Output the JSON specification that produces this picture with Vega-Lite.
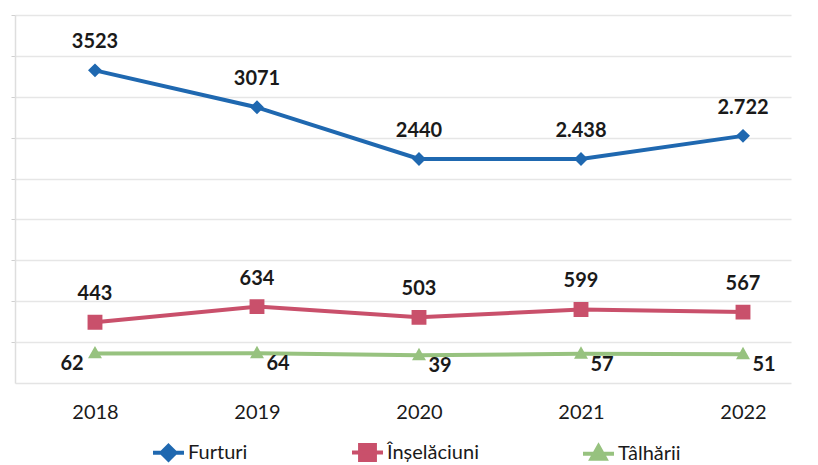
{
  "$schema": "https://vega.github.io/schema/vega-lite/v6.json",
  "width": 776,
  "height": 368,
  "autosize": {"type": "none"},
  "padding": {"left": 15, "top": 15, "right": 27, "bottom": 82},
  "background": "white",
  "config": {"view": {"stroke": null}, "font": "Lato"},
  "data": {
    "values": [
      {"year": "2018", "series": "Furturi", "value": 3523, "label": "3523"},
      {"year": "2019", "series": "Furturi", "value": 3071, "label": "3071"},
      {"year": "2020", "series": "Furturi", "value": 2440, "label": "2440"},
      {"year": "2021", "series": "Furturi", "value": 2438, "label": "2.438"},
      {"year": "2022", "series": "Furturi", "value": 2722, "label": "2.722"},
      {"year": "2018", "series": "Înșelăciuni", "value": 443, "label": "443"},
      {"year": "2019", "series": "Înșelăciuni", "value": 634, "label": "634"},
      {"year": "2020", "series": "Înșelăciuni", "value": 503, "label": "503"},
      {"year": "2021", "series": "Înșelăciuni", "value": 599, "label": "599"},
      {"year": "2022", "series": "Înșelăciuni", "value": 567, "label": "567"},
      {"year": "2018", "series": "Tâlhării", "value": 62, "label": "62"},
      {"year": "2019", "series": "Tâlhării", "value": 64, "label": "64"},
      {"year": "2020", "series": "Tâlhării", "value": 39, "label": "39"},
      {"year": "2021", "series": "Tâlhării", "value": 57, "label": "57"},
      {"year": "2022", "series": "Tâlhării", "value": 51, "label": "51"}
    ]
  },
  "encoding": {
    "x": {
      "field": "year", "type": "ordinal",
      "scale": {"type": "point", "padding": 0.395, "align": 0.625},
      "axis": {"title": null, "labelAngle": 0, "ticks": false, "domain": true, "domainColor": "#e4e4e4", "domainWidth": 1.5,
               "labelFont": "Lato", "labelFontSize": 20, "labelColor": "#1a1a1a", "labelPadding": 19, "grid": false}
    },
    "y": {
      "field": "value", "type": "quantitative",
      "scale": {"domain": [-300, 4200], "nice": false, "zero": false},
      "axis": {"title": null, "labels": false, "values": [200, 700, 1200, 1700, 2200, 2700, 3200, 3700, 4200],
               "grid": true, "gridColor": "#e6e6e6", "gridWidth": 1.5, "ticks": true, "tickSize": 4, "tickColor": "#d0d0d0",
               "domain": true, "domainColor": "#dedede", "domainWidth": 1.5}
    },
    "color": {"field": "series", "type": "nominal",
              "scale": {"domain": ["Furturi", "Înșelăciuni", "Tâlhării"], "range": ["#1f68b0", "#c9506b", "#97c27f"]},
              "legend": {"title": null, "orient": "none", "legendX": 136, "legendY": 420, "direction": "horizontal",
                         "columnPadding": 96, "symbolSize": 960, "symbolStrokeWidth": 4, "symbolOpacity": 1,
                         "labelFont": "Lato", "labelFontSize": 20, "labelColor": "#1a1a1a", "labelOffset": 2,
                         "encode": {"symbols": {"update": {"stroke": {"scale": "color", "field": "value"}, "strokeWidth": {"value": 4}}}}}}
  },
  "layer": [
    {
      "mark": {"type": "line", "strokeWidth": 4}
    },
    {
      "mark": {"type": "point", "filled": true, "size": 960, "strokeWidth": 0, "opacity": 1},
      "encoding": {
        "shape": {"field": "series", "type": "nominal",
                  "scale": {"domain": ["Furturi", "Înșelăciuni", "Tâlhării"],
                            "range": ["M-1,0H1M0,-0.45L0.45,0L0,0.45L-0.45,0Z", "M-1,0H1M-0.48,-0.48H0.48V0.48H-0.48Z", "M-1,0H1M0,-0.48L0.45,0.32H-0.45Z"]},
                  "legend": {"title": null, "orient": "none", "legendX": 136, "legendY": 420, "direction": "horizontal",
                         "columnPadding": 96, "symbolSize": 960, "symbolStrokeWidth": 4, "symbolOpacity": 1,
                         "labelFont": "Lato", "labelFontSize": 20, "labelColor": "#1a1a1a", "labelOffset": 2,
                         "encode": {"symbols": {"update": {"stroke": {"scale": "color", "field": "value"}, "strokeWidth": {"value": 4}}}}}}
      }
    },
    {
      "transform": [{"filter": "datum.series !== 'Tâlhării'"}],
      "mark": {"type": "text", "dy": -28, "fontSize": 20, "fontWeight": "bold", "font": "Lato"},
      "encoding": {"text": {"field": "label"}, "color": {"value": "#1a1a1a"}}
    },
    {
      "transform": [{"filter": "datum.series === 'Tâlhării' && datum.year === '2018'"}],
      "mark": {"type": "text", "dx": -23, "dy": 11, "fontSize": 20, "fontWeight": "bold", "font": "Lato"},
      "encoding": {"text": {"field": "label"}, "color": {"value": "#1a1a1a"}}
    },
    {
      "transform": [{"filter": "datum.series === 'Tâlhării' && datum.year !== '2018'"}],
      "mark": {"type": "text", "dx": 21, "dy": 11, "fontSize": 20, "fontWeight": "bold", "font": "Lato"},
      "encoding": {"text": {"field": "label"}, "color": {"value": "#1a1a1a"}}
    }
  ]
}
